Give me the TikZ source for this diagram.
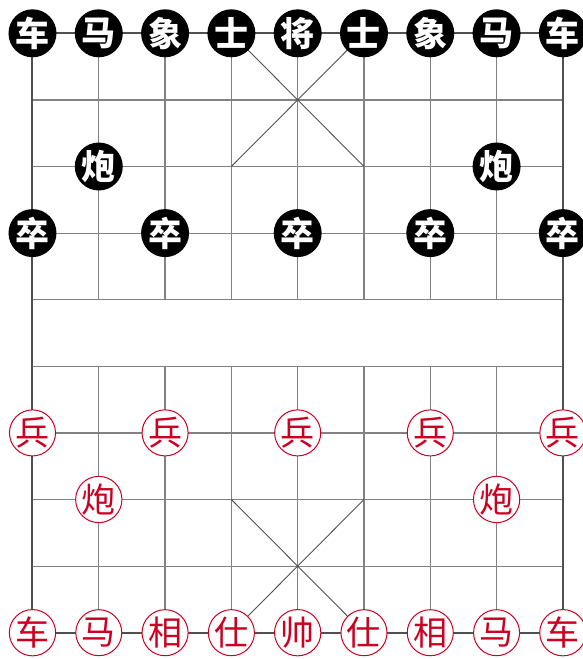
\documentclass[tikz,border=0pt]{standalone}
\usepackage{fontspec}
\newfontfamily\cjk{Noto Sans CJK SC}
\begin{document}
\begin{tikzpicture}[x=66.3pt, y=-66.6pt,
  gridline/.style={draw=linegray, line width=1.2pt},
  blackpiece/.style={circle, fill=black, minimum size=48pt, inner sep=0pt,
    text=white, font=\cjk\bfseries\fontsize{34}{34}\selectfont},
  redpiece/.style={circle, draw=piecered, line width=1pt, fill=white,
    minimum size=46pt, inner sep=0pt, text=piecered,
    font=\cjk\fontsize{34}{34}\selectfont}]
% Define colors
\definecolor{piecered}{RGB}{204, 0, 34}
\definecolor{linegray}{RGB}{130, 130, 130}
\definecolor{bordergray}{RGB}{80, 80, 80}

\useasboundingbox (-0.49,-0.5) rectangle (8.303,9.395);

% Grid
\foreach \r in {0,...,9} \draw[gridline] (0,\r) -- (8,\r);
\foreach \c in {1,...,7} {
  \draw[gridline] (\c,0) -- (\c,4);
  \draw[gridline] (\c,5) -- (\c,9);
}
\draw[bordergray, line width=2pt] (0,0) rectangle (8,9);

% Palaces
\draw[bordergray, line width=0.9pt] (3,0) -- (5,2) (5,0) -- (3,2);
\draw[bordergray, line width=0.9pt] (3,7) -- (5,9) (5,7) -- (3,9);

% Black side
\foreach \c/\t in {0/车,1/马,2/象,3/士,4/将,5/士,6/象,7/马,8/车}
  \node[blackpiece] (black-back-\c) at (\c,0) {\t};
\node[blackpiece] (black-pao-1) at (1,2) {炮};
\node[blackpiece] (black-pao-7) at (7,2) {炮};
\foreach \c in {0,2,4,6,8}
  \node[blackpiece] (black-zu-\c) at (\c,3) {卒};

% Red side
\foreach \c in {0,2,4,6,8}
  \node[redpiece] (red-bing-\c) at (\c,6) {兵};
\node[redpiece] (red-pao-1) at (1,7) {炮};
\node[redpiece] (red-pao-7) at (7,7) {炮};
\foreach \c/\t in {0/车,1/马,2/相,3/仕,4/帅,5/仕,6/相,7/马,8/车}
  \node[redpiece] (red-back-\c) at (\c,9) {\t};

\end{tikzpicture}
\end{document}
